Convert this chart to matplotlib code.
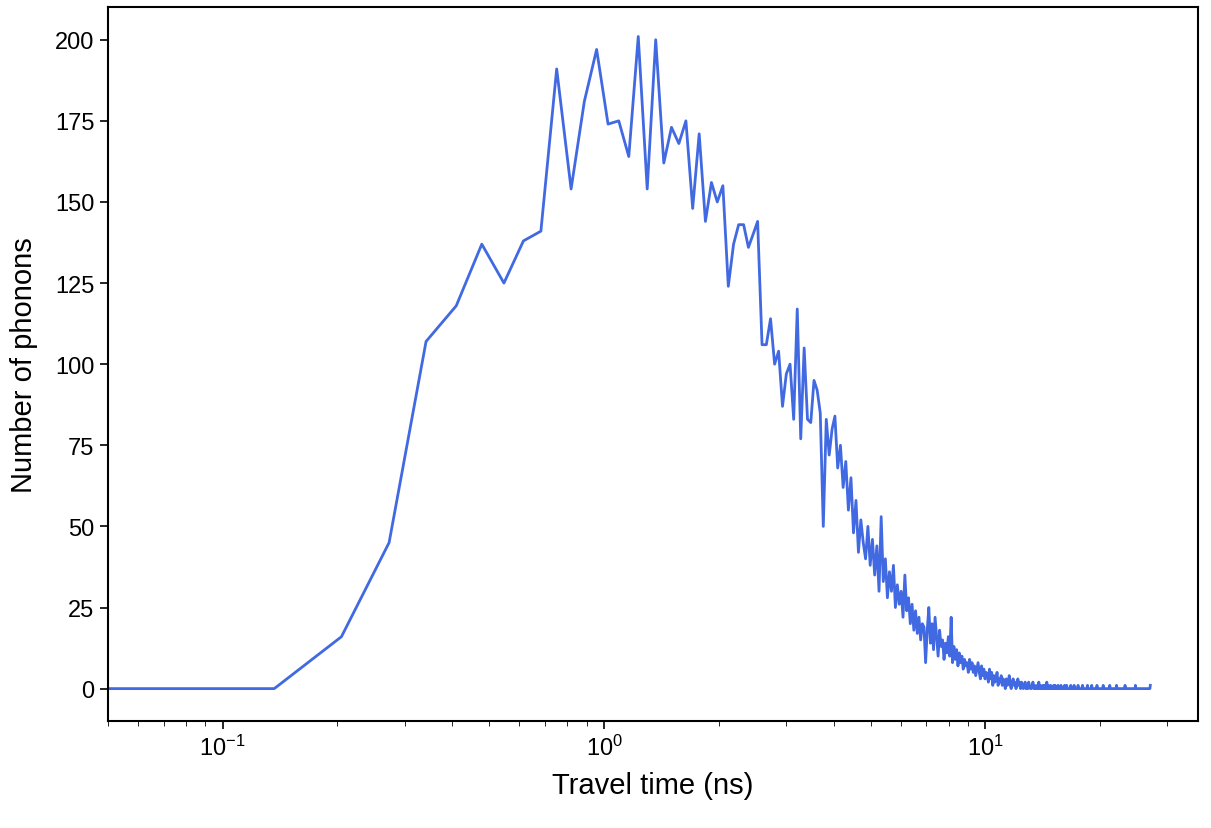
import numpy as np
import matplotlib
matplotlib.use('Agg')
import matplotlib.pyplot as plt

plt.rcParams['font.family'] = ['Liberation Sans', 'DejaVu Sans']

bin_width = 0.0683  # ns

# phonon counts per bin
counts_head = [0, 0, 0, 16, 45, 107, 118, 137, 125, 138, 141, 191, 154, 181, 197,
               174, 175, 164, 201, 154, 200, 162, 173, 168, 175, 148, 171, 144, 156, 150,
               155, 124, 137, 143, 143, 136, 140, 144, 106, 106, 114, 100, 104, 87, 97,
               100, 83, 117, 77, 105, 83, 82, 95, 92, 85, 50, 83, 72, 80, 84]
counts_mid = [68, 75, 62, 70, 55, 65, 48, 58, 42, 52, 45, 40, 50, 38,
              46, 35, 44, 30, 53, 33, 40, 28, 36, 30, 38, 25, 32, 26,
              30, 22, 35, 24, 28, 20, 26, 18, 24, 17, 22, 15, 20, 19, 8,
              18, 25, 14, 20, 12, 22, 16, 10, 18, 13, 15, 9, 14, 11, 16,
              10, 22, 8, 13, 9, 12, 7, 11, 8, 10, 6, 9, 7, 8, 5,
              9, 6, 8, 5, 7, 4, 6, 8, 5, 3, 7, 4, 6, 3, 5]
counts_tail = [4, 2, 6, 3, 5, 1, 4, 2, 3, 5, 1, 3, 2, 4, 1, 3, 2, 0, 3, 1, 2, 4, 1, 0, 2,
               3, 1, 2, 0, 1, 3, 1, 2,
               0, 2, 1, 0, 1, 2, 0, 1, 0, 2, 1, 0, 0, 1, 2, 0, 1, 0, 0, 1, 0, 2, 0, 1,
               0, 0, 1, 0, 1, 0, 0, 2, 0, 1, 0, 0, 1, 0, 0, 0, 1, 0, 1, 0, 0, 0, 1, 0,
               0, 0, 1, 0, 0, 0, 0, 1, 0, 0, 1, 0, 0, 0, 0, 0, 1, 0, 0, 0, 0, 1, 0, 0,
               0, 0, 0, 1, 0, 0, 0, 0, 0, 0, 1, 0, 0, 0, 0, 0, 0, 0, 1, 0, 0, 0, 0, 0,
               0, 1, 0, 0, 0, 0, 0, 0, 0, 0, 1, 0, 0, 0, 0, 0, 0, 0, 0, 0, 0, 1, 0, 0,
               0, 0, 0, 0, 0, 0, 0, 0, 0, 1, 0, 0, 0, 0, 0, 0, 0, 0, 0, 0, 0, 0, 1, 0,
               0, 0, 0, 0, 0, 0, 0, 0, 0, 0, 0, 0, 0, 0, 0, 1, 0, 0, 0, 0, 0, 0, 0, 0,
               0, 0, 0, 0, 0, 0, 0, 0, 0, 0, 0, 0, 0, 1, 0, 0, 0, 0, 0, 0, 0, 0, 0, 0,
               0, 0, 0, 0, 0, 0, 0, 0, 0, 0, 0, 0, 0, 0, 0, 0, 0, 0, 0, 0, 0, 0, 0, 1]
counts = np.array(counts_head + counts_mid + counts_tail)
times = np.arange(len(counts)) * bin_width

fig, ax = plt.subplots(figsize=(12.11, 8.29), dpi=100)
ax.plot(times, counts, color='#4169e1', linewidth=2)
ax.set_xscale('log')
ax.set_xlim(0.05, 36)
ax.set_ylim(-10, 210)
ax.set_yticks(range(0, 201, 25))
ax.tick_params(which='both', direction='out', labelsize=17)
ax.tick_params(which='major', length=6, width=1.2)
ax.tick_params(which='minor', length=3.5)
ax.set_xlabel('Travel time (ns)', fontsize=21, labelpad=8)
ax.set_ylabel('Number of phonons', fontsize=21, labelpad=12)
for s in ax.spines.values():
    s.set_linewidth(1.5)
plt.subplots_adjust(left=0.089, right=0.989, top=0.99, bottom=0.129)
fig.savefig('out.png')
